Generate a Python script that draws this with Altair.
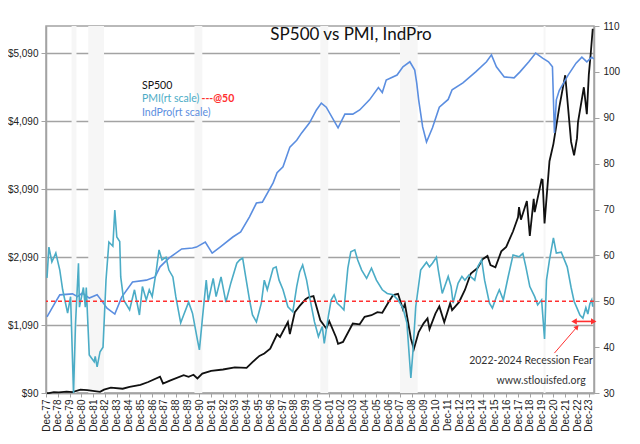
import altair as alt
import pandas as pd

# ---------------- data ----------------
sp500_pts = [
    ("1978-01", 89), ("1978-03", 89), ("1978-08", 103), ("1979-01", 100), ("1979-09", 109),
    ("1980-03", 102), ("1980-11", 140), ("1981-06", 131), ("1982-07", 107), ("1982-11", 139),
    ("1983-06", 168), ("1984-06", 153), ("1985-01", 179), ("1985-12", 211), ("1986-08", 252),
    ("1987-08", 329), ("1987-11", 230), ("1988-06", 273), ("1989-08", 351), ("1990-01", 329),
    ("1990-06", 358), ("1990-10", 304), ("1991-03", 375), ("1991-12", 417), ("1992-12", 436),
    ("1993-12", 466), ("1994-12", 459), ("1995-06", 545), ("1996-01", 636), ("1996-06", 671),
    ("1996-12", 741), ("1997-07", 954), ("1997-10", 914), ("1998-06", 1133), ("1998-08", 957),
    ("1999-01", 1279), ("1999-06", 1372), ("1999-12", 1469), ("2000-03", 1499), ("2000-08", 1517),
    ("2001-03", 1160), ("2001-09", 1040), ("2001-12", 1148), ("2002-07", 911), ("2002-09", 815),
    ("2003-02", 841), ("2003-12", 1112), ("2004-07", 1101), ("2004-12", 1212), ("2005-07", 1234),
    ("2006-01", 1280), ("2006-06", 1270), ("2006-12", 1418), ("2007-05", 1530), ("2007-10", 1549),
    ("2008-03", 1323), ("2008-05", 1400), ("2008-11", 896), ("2009-02", 735), ("2009-07", 987),
    ("2009-12", 1115), ("2010-04", 1187), ("2010-06", 1030), ("2010-12", 1258), ("2011-04", 1364),
    ("2011-09", 1131), ("2012-03", 1408), ("2012-05", 1310), ("2012-12", 1426), ("2013-06", 1606),
    ("2013-12", 1848), ("2014-07", 1931), ("2014-12", 2059), ("2015-05", 2107), ("2015-08", 1972),
    ("2016-01", 1940), ("2016-07", 2174), ("2016-12", 2239), ("2017-07", 2470), ("2017-12", 2674),
    ("2018-01", 2824), ("2018-03", 2640), ("2018-09", 2914), ("2018-12", 2400), ("2019-04", 2946),
    ("2019-05", 2752), ("2019-12", 3231), ("2020-01", 3226), ("2020-03", 2585), ("2020-08", 3500),
    ("2020-12", 3756), ("2021-06", 4297), ("2021-12", 4766), ("2022-06", 3785), ("2022-09", 3586),
    ("2022-12", 3840), ("2023-01", 4077), ("2023-07", 4589), ("2023-10", 4194), ("2023-12", 4770),
    ("2024-02", 5096), ("2024-04", 5450),
]

pmi_pts = [
    ("1978-01", 55.1), ("1978-03", 61.8), ("1978-06", 58.6), ("1978-10", 60.5), ("1979-02", 56.8),
    ("1979-05", 52.5), ("1979-10", 47.4), ("1980-01", 51.0), ("1980-04", 30.0), ("1980-06", 45.0),
    ("1980-09", 58.3), ("1980-10", 48.7), ("1981-02", 53.0), ("1981-04", 48.7), ("1981-05", 53.0),
    ("1981-08", 38.3), ("1982-01", 36.8), ("1982-02", 38.0), ("1982-04", 35.7), ("1982-07", 39.0),
    ("1982-10", 40.0), ("1983-01", 54.6), ("1983-04", 62.9), ("1983-08", 62.0), ("1983-10", 69.9),
    ("1983-12", 64.0), ("1984-03", 63.0), ("1984-04", 55.3), ("1984-07", 50.3), ("1985-01", 48.1),
    ("1985-06", 52.5), ("1985-11", 47.0), ("1986-02", 53.2), ("1986-06", 50.3), ("1986-09", 52.5),
    ("1986-12", 51.0), ("1987-04", 56.4), ("1987-07", 61.2), ("1987-10", 59.0), ("1988-02", 59.6),
    ("1988-05", 56.8), ("1988-09", 55.3), ("1988-12", 51.0), ("1989-05", 45.3), ("1989-08", 47.0),
    ("1990-01", 49.8), ("1990-05", 47.4), ("1990-10", 41.6), ("1990-12", 39.4), ("1991-03", 46.0),
    ("1991-07", 54.6), ("1991-09", 50.0), ("1992-02", 55.0), ("1992-05", 51.0), ("1992-10", 55.3),
    ("1993-03", 49.8), ("1993-08", 54.0), ("1994-02", 58.3), ("1994-05", 59.0), ("1994-08", 59.4),
    ("1994-11", 55.4), ("1995-03", 50.3), ("1995-06", 47.0), ("1995-10", 45.5), ("1996-03", 49.6),
    ("1996-06", 54.6), ("1996-09", 52.5), ("1997-03", 57.2), ("1997-06", 57.5), ("1997-09", 54.6),
    ("1998-01", 52.5), ("1998-06", 48.8), ("1998-11", 47.7), ("1999-03", 53.2), ("1999-06", 56.4),
    ("1999-09", 57.9), ("2000-01", 54.6), ("2000-04", 51.0), ("2000-09", 45.5), ("2001-01", 42.3),
    ("2001-05", 44.5), ("2001-07", 40.8), ("2001-11", 46.6), ("2002-02", 50.3), ("2002-05", 51.4),
    ("2002-08", 49.6), ("2002-12", 48.8), ("2003-03", 48.1), ("2003-07", 57.2), ("2003-10", 60.8),
    ("2004-02", 61.2), ("2004-05", 59.0), ("2004-09", 56.8), ("2005-02", 55.0), ("2005-07", 57.2),
    ("2005-12", 54.6), ("2006-06", 52.5), ("2006-11", 51.7), ("2007-05", 51.4), ("2007-10", 50.3),
    ("2008-03", 48.5), ("2008-07", 45.3), ("2008-11", 33.3), ("2009-01", 38.7), ("2009-04", 48.8),
    ("2009-09", 56.8), ("2010-03", 58.5), ("2010-06", 57.5), ("2010-09", 58.3), ("2011-01", 59.6),
    ("2011-03", 56.8), ("2011-07", 51.7), ("2012-01", 55.4), ("2012-04", 53.2), ("2012-06", 49.6),
    ("2012-11", 53.9), ("2013-03", 55.4), ("2013-06", 54.6), ("2013-10", 55.7), ("2014-04", 54.6),
    ("2014-07", 57.5), ("2014-11", 59.0), ("2015-02", 54.6), ("2015-07", 49.6), ("2015-10", 48.5),
    ("2016-02", 51.0), ("2016-05", 52.5), ("2016-09", 50.3), ("2017-02", 55.4), ("2017-07", 60.1),
    ("2018-01", 59.7), ("2018-05", 60.4), ("2018-08", 57.5), ("2018-12", 53.2), ("2019-05", 51.0),
    ("2019-08", 49.2), ("2019-12", 50.3), ("2020-03", 41.8), ("2020-05", 54.6), ("2020-08", 59.0),
    ("2020-12", 63.8), ("2021-03", 60.5), ("2021-08", 60.7), ("2022-02", 57.5), ("2022-06", 53.0),
    ("2022-09", 50.0), ("2022-12", 48.5), ("2023-03", 47.0), ("2023-06", 46.3), ("2023-09", 48.6),
    ("2023-11", 47.2), ("2024-01", 49.4), ("2024-03", 50.3), ("2024-04", 48.8),
]

indpro_pts = [
    ("1978-01", 46.6), ("1978-09", 49.6), ("1979-02", 51.4), ("1980-03", 51.6), ("1980-08", 51.0),
    ("1981-01", 51.8), ("1981-08", 50.7), ("1982-04", 51.4), ("1982-08", 50.3), ("1983-02", 48.5),
    ("1983-10", 47.2), ("1984-05", 50.9), ("1985-04", 54.2), ("1986-06", 54.6), ("1987-03", 55.3),
    ("1987-08", 57.5), ("1988-05", 59.4), ("1989-06", 61.4), ("1990-05", 61.6), ("1990-09", 61.8),
    ("1991-06", 62.9), ("1992-01", 60.5), ("1992-09", 61.8), ("1993-10", 64.0), ("1994-06", 65.1),
    ("1995-03", 68.4), ("1995-10", 71.4), ("1996-04", 71.6), ("1997-03", 75.8), ("1997-07", 78.0),
    ("1998-01", 79.3), ("1998-08", 83.6), ("1999-03", 85.1), ("1999-08", 86.7), ("2000-04", 88.9),
    ("2000-11", 91.7), ("2001-04", 93.2), ("2001-09", 92.3), ("2002-09", 87.8), ("2003-04", 90.8),
    ("2003-12", 90.8), ("2004-07", 91.7), ("2005-05", 93.9), ("2006-02", 96.6), ("2006-06", 95.5),
    ("2006-10", 98.2), ("2007-09", 99.3), ("2008-03", 101.1), ("2008-10", 102.2), ("2009-03", 100.4),
    ("2009-05", 97.6), ("2009-07", 93.9), ("2009-11", 88.0), ("2010-03", 84.7), ("2010-09", 87.8),
    ("2011-04", 92.3), ("2012-01", 94.0), ("2012-05", 96.1), ("2013-04", 97.6), ("2014-05", 100.0),
    ("2015-04", 102.2), ("2015-09", 103.7), ("2016-02", 101.1), ("2016-10", 98.9), ("2017-08", 98.7),
    ("2018-02", 100.0), ("2018-11", 102.2), ("2019-06", 104.1), ("2020-01", 103.0), ("2020-07", 102.2),
    ("2020-11", 101.1), ("2021-01", 86.7), ("2021-03", 93.9), ("2021-06", 96.0), ("2022-03", 99.3),
    ("2022-11", 101.9), ("2023-05", 103.2), ("2023-10", 102.2), ("2024-03", 103.2), ("2024-05", 102.8),
]

recessions = [("1980-02", "1980-07"), ("1981-07", "1982-11"), ("1990-07", "1991-03"),
              ("2001-03", "2001-11"), ("2007-12", "2009-06"), ("2020-02", "2020-04")]

left_ticks = [90, 1090, 2090, 3090, 4090, 5090]
right_ticks = [30, 40, 50, 60, 70, 80, 90, 100, 110]
tick_years = list(range(1977, 2024))
pmi_threshold = [50]

fear_span = [("2022-09", "2024-05", 45.6)]          # red double arrow
fear_pointer = [("2021-01", 38.7, "2022-12", 44.4)]  # red pointer

title_text = "SP500 vs PMI, IndPro"
legend_texts = ["SP500", "PMI(rt scale)", "---@50", "IndPro(rt scale)"]
note_texts = ["2022-2024 Recession Fear", "www.stlouisfed.org"]

# ---------------- styles ----------------
W, H = 548, 367
PMI_C = "#4bacc6"
IND_C = "#5b8ee0"
RED = "#ff3030"
GRID = "#a3a3a3"
AXIS_FONT = "Liberation Sans"
TEXT_FONT = "Lato"


def d(s):
    return s + "-01"


def series_df(pts, name):
    return pd.DataFrame({"date": [d(a) for a, _ in pts], "value": [b for _, b in pts], "series": name})


sp_df = series_df(sp500_pts, "SP500")
right_df = pd.concat([series_df(indpro_pts, "IndPro"), series_df(pmi_pts, "PMI")], ignore_index=True)
rec_df = pd.DataFrame({"start": [d(a) for a, _ in recessions], "end": [d(b) for _, b in recessions]})

xscale = alt.Scale(type="utc", domain=[alt.DateTime(year=1977, month=12, date=1, utc=True),
                                       alt.DateTime(year=2024, month=5, date=10, utc=True)])
xaxis = alt.Axis(values=[alt.DateTime(year=y, month=12, date=1, utc=True) for y in tick_years],
                 labelExpr="utcFormat(datum.value, '%b-%y')", labelAngle=-90, labelAlign="right",
                 labelBaseline="middle", labelFont=AXIS_FONT, labelFontSize=10, labelColor="#222",
                 labelOverlap=False, labelPadding=2, domainColor=GRID, domainWidth=1.5,
                 tickColor=GRID, tickSize=4, grid=False, title=None)


def X(field):
    return alt.X(f"{field}:T", scale=xscale, axis=xaxis, title=None)


left_axis = alt.Axis(orient="left", values=left_ticks, format="$,.0f", grid=True, gridColor=GRID,
                     gridWidth=1.5, domainColor=GRID, domainWidth=1.5, tickColor=GRID, tickSize=5,
                     labelPadding=3, labelFont=AXIS_FONT, labelFontSize=10, labelColor="#222", title=None)
right_axis = alt.Axis(orient="right", values=right_ticks, grid=False, domainColor=GRID, domainWidth=1.5,
                      tickColor=GRID, tickSize=5, labelPadding=4, labelFont=AXIS_FONT, labelFontSize=10,
                      labelColor="#222", title=None)
right_scale = alt.Scale(domain=[30, 110], nice=False, zero=False)


def Yr(field):
    return alt.Y(f"{field}:Q", scale=right_scale, axis=right_axis, title=None)


bands = alt.Chart(rec_df).mark_rect(color="#f6f6f6").encode(x=X("start"), x2="end:T")

sp_line = alt.Chart(sp_df).mark_line(color="#111111", strokeWidth=1.8).encode(
    x=X("date"),
    y=alt.Y("value:Q", scale=alt.Scale(domain=[90, 5490], nice=False, zero=False), axis=left_axis, title=None),
)

right_lines = alt.Chart(right_df).mark_line(strokeWidth=1.6).encode(
    x=X("date"), y=Yr("value"),
    color=alt.Color("series:N", scale=alt.Scale(domain=["PMI", "IndPro"], range=[PMI_C, IND_C]), legend=None),
)

rule50 = alt.Chart(pd.DataFrame({"v": pmi_threshold})).mark_rule(
    color=RED, strokeDash=[4, 3], strokeWidth=1.3).encode(y=Yr("v"))

span_df = pd.DataFrame({"start": [d(a) for a, _, _ in fear_span], "end": [d(b) for _, b, _ in fear_span],
                        "v": [c for _, _, c in fear_span]})
span_line = alt.Chart(span_df).mark_rule(color=RED, strokeWidth=1.6).encode(x=X("start"), x2="end:T", y=Yr("v"))
heads_df = pd.DataFrame({"date": [span_df["start"][0], span_df["end"][0]],
                         "v": [span_df["v"][0], span_df["v"][0]],
                         "shape": ["triangle-left", "triangle-right"]})
span_heads = alt.Chart(heads_df).mark_point(filled=True, color=RED, size=40, opacity=1).encode(
    x=X("date"), y=Yr("v"), shape=alt.Shape("shape:N", scale=None))

ptr_df = pd.DataFrame({"x1": [d(a) for a, _, _, _ in fear_pointer], "y1": [b for _, b, _, _ in fear_pointer],
                       "x2": [d(c) for _, _, c, _ in fear_pointer], "y2": [e for _, _, _, e in fear_pointer]})
ptr_line = alt.Chart(ptr_df).mark_rule(color=RED, strokeWidth=1).encode(x=X("x1"), x2="x2:T", y=Yr("y1"), y2="y2:Q")
ptr_head = alt.Chart(ptr_df).mark_point(shape="triangle-up", filled=True, color=RED, size=30, angle=41,
                                        opacity=1).encode(x=X("x2"), y=Yr("y2"))

right_group = alt.layer(right_lines, rule50, span_line, span_heads, ptr_line, ptr_head)


def label(text, x, y, size, color, align="left", weight="normal", font=TEXT_FONT):
    return alt.Chart(pd.DataFrame({"t": [text]})).mark_text(
        align=align, baseline="middle", font=font, fontSize=size, color=color, fontWeight=weight
    ).encode(x=alt.value(x), y=alt.value(y), text="t:N")


texts = [
    label(title_text, 305, 9, 17, "#111", align="center"),
    label(legend_texts[0], 96, 59.5, 10.5, "#111"),
    label(legend_texts[1], 96, 73, 10.5, PMI_C),
    label(legend_texts[2], 155.5, 73, 10.5, RED, weight="bold"),
    label(legend_texts[3], 96, 86.5, 10.5, IND_C),
    label(note_texts[0], 485, 335, 10.5, "#333", align="center"),
    label(note_texts[1], 495, 355, 10.5, "#333", align="center"),
]

chart = alt.layer(bands, sp_line, right_group, *texts).resolve_scale(y="independent").properties(
    width=W, height=H,
    autosize=alt.AutoSizeParams(type="none"),
    padding={"left": 38, "top": 18, "right": 38, "bottom": 43},
    background="white",
).configure_view(stroke=GRID, strokeWidth=1.5)

chart.save("out.html", embed_options={"renderer": "svg", "actions": False})
